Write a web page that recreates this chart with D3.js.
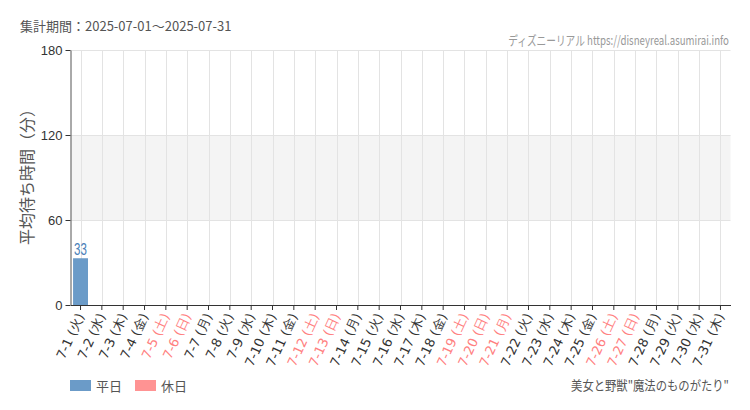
<!DOCTYPE html>
<html><head><meta charset="utf-8">
<script src="https://cdn.jsdelivr.net/npm/d3@7"></script>
<style>body{margin:0;background:#fff;}</style>
</head><body>
<svg id="c" width="750" height="410" style="font-family:'Noto Sans CJK JP','Noto Sans',sans-serif"></svg>
<script>
const days = ["7-1","7-2","7-3","7-4","7-5","7-6","7-7","7-8","7-9","7-10","7-11","7-12","7-13","7-14","7-15","7-16","7-17","7-18","7-19","7-20","7-21","7-22","7-23","7-24","7-25","7-26","7-27","7-28","7-29","7-30","7-31"];
const weekdays = ["火","水","木","金","土","日","月","火","水","木","金","土","日","月","火","水","木","金","土","日","月","火","水","木","金","土","日","月","火","水","木"];
const holidays = ["7-5","7-6","7-12","7-13","7-19","7-20","7-21","7-26","7-27"];
const waits = [33,null,null,null,null,null,null,null,null,null,null,null,null,null,null,null,null,null,null,null,null,null,null,null,null,null,null,null,null,null,null];
const yTicks = [0,60,120,180];
const title = "集計期間：2025-07-01～2025-07-31";
const source = "ディズニーリアル https://disneyreal.asumirai.info";
const attraction = "美女と野獣\"魔法のものがたり\"";
const legendItems = ["平日","休日"];

(function(){
const colWeek = "#6b9bc8", colHol = "#ff9393";
const svg = d3.select("#c");
const pL = 70.5, pR = 730.5, pT = 50, pB = 305;
const x = d3.scaleBand().domain(days).range([pL, pR]).paddingInner(0.3).paddingOuter(0.12);
const y = d3.scaleLinear().domain([0,180]).range([pB, pT]);

svg.append("rect").attr("x", pL).attr("width", pR-pL)
  .attr("y", y(120)).attr("height", y(60)-y(120)).attr("fill","#f4f4f4");
svg.append("g").selectAll("line").data(yTicks.filter(d=>d>0)).join("line")
  .attr("x1", pL).attr("x2", pR).attr("y1", d=>y(d)+0.5).attr("y2", d=>y(d)+0.5)
  .attr("stroke","#e3e3e3");
svg.append("g").selectAll("line").data(days).join("line")
  .attr("x1", d=>Math.round(x(d)+x.bandwidth()/2)+0.5).attr("x2", d=>Math.round(x(d)+x.bandwidth()/2)+0.5)
  .attr("y1", pT).attr("y2", pB).attr("stroke","#e3e3e3");

const data = days.map((d,i)=>({d, v:waits[i], hol: holidays.includes(d)}));
svg.append("g").selectAll("rect").data(data.filter(e=>e.v!=null)).join("rect")
  .attr("x", e=>x(e.d)).attr("width", x.bandwidth())
  .attr("y", e=>y(e.v)).attr("height", e=>y(0)-y(e.v))
  .attr("fill", e=>e.hol?colHol:colWeek);
svg.append("g").selectAll("text").data(data.filter(e=>e.v!=null)).join("text")
  .attr("transform", e=>`translate(${x(e.d)+x.bandwidth()/2},${y(e.v)-3}) scale(0.72,1)`)
  .attr("text-anchor","middle").attr("font-size",16).attr("fill","#4a80b8")
  .style("font-family","'Liberation Sans',sans-serif")
  .text(e=>e.v);

const ya = svg.append("g").attr("transform",`translate(${pL},0)`)
  .call(d3.axisLeft(y).tickValues(yTicks).tickSize(5).tickSizeOuter(0));
ya.attr("font-family",null);
ya.select(".domain").attr("stroke","#555");
ya.selectAll(".tick line").attr("stroke","#333");
ya.selectAll(".tick text").attr("font-size",13).attr("fill","#333").style("font-family","'Liberation Sans',sans-serif");

const xa = svg.append("g").attr("transform",`translate(0,${pB})`)
  .call(d3.axisBottom(x).tickSize(5).tickSizeOuter(0).tickFormat((d,i)=>`${d} (${weekdays[i]})`));
xa.select(".domain").attr("stroke","#333");
xa.selectAll(".tick line").attr("stroke","#333");
xa.selectAll(".tick text").attr("font-size",13).style("font-family","'DejaVu Sans',sans-serif")
  .attr("fill", d=>holidays.includes(d)?"#ff8080":"#333")
  .attr("text-anchor","end").attr("y",0).attr("x",0).attr("dx",0).attr("dy","0.35em")
  .attr("transform","translate(0,9) rotate(-65)");

svg.append("text").attr("x",20).attr("y",31).attr("font-size",13).attr("fill","#555").text(title);
const src = svg.append("text").attr("text-anchor","end").attr("font-size",13).attr("fill","#999").text(source);
const sw = src.node().getComputedTextLength();
src.attr("transform",`translate(729,45) scale(${221/sw},1)`);
svg.append("text").attr("transform",`translate(33,173) rotate(-90)`)
  .attr("text-anchor","middle").attr("font-size",16).attr("fill","#555").text("平均待ち時間（分）");

const lg = svg.append("g");
[[70,colWeek],[135,colHol]].forEach(([lx,c],i)=>{
  lg.append("rect").attr("x",lx).attr("y",380).attr("width",21).attr("height",11).attr("fill",c);
  lg.append("text").attr("x",lx+26).attr("y",390.5).attr("font-size",13).attr("fill","#555").text(legendItems[i]);
});
const at = svg.append("text").attr("text-anchor","end").attr("font-size",13).attr("fill","#555").text(attraction);
const aw = at.node().getComputedTextLength();
at.attr("transform",`translate(729,390) scale(${158/aw},1)`);
})();
</script>
</body></html>
